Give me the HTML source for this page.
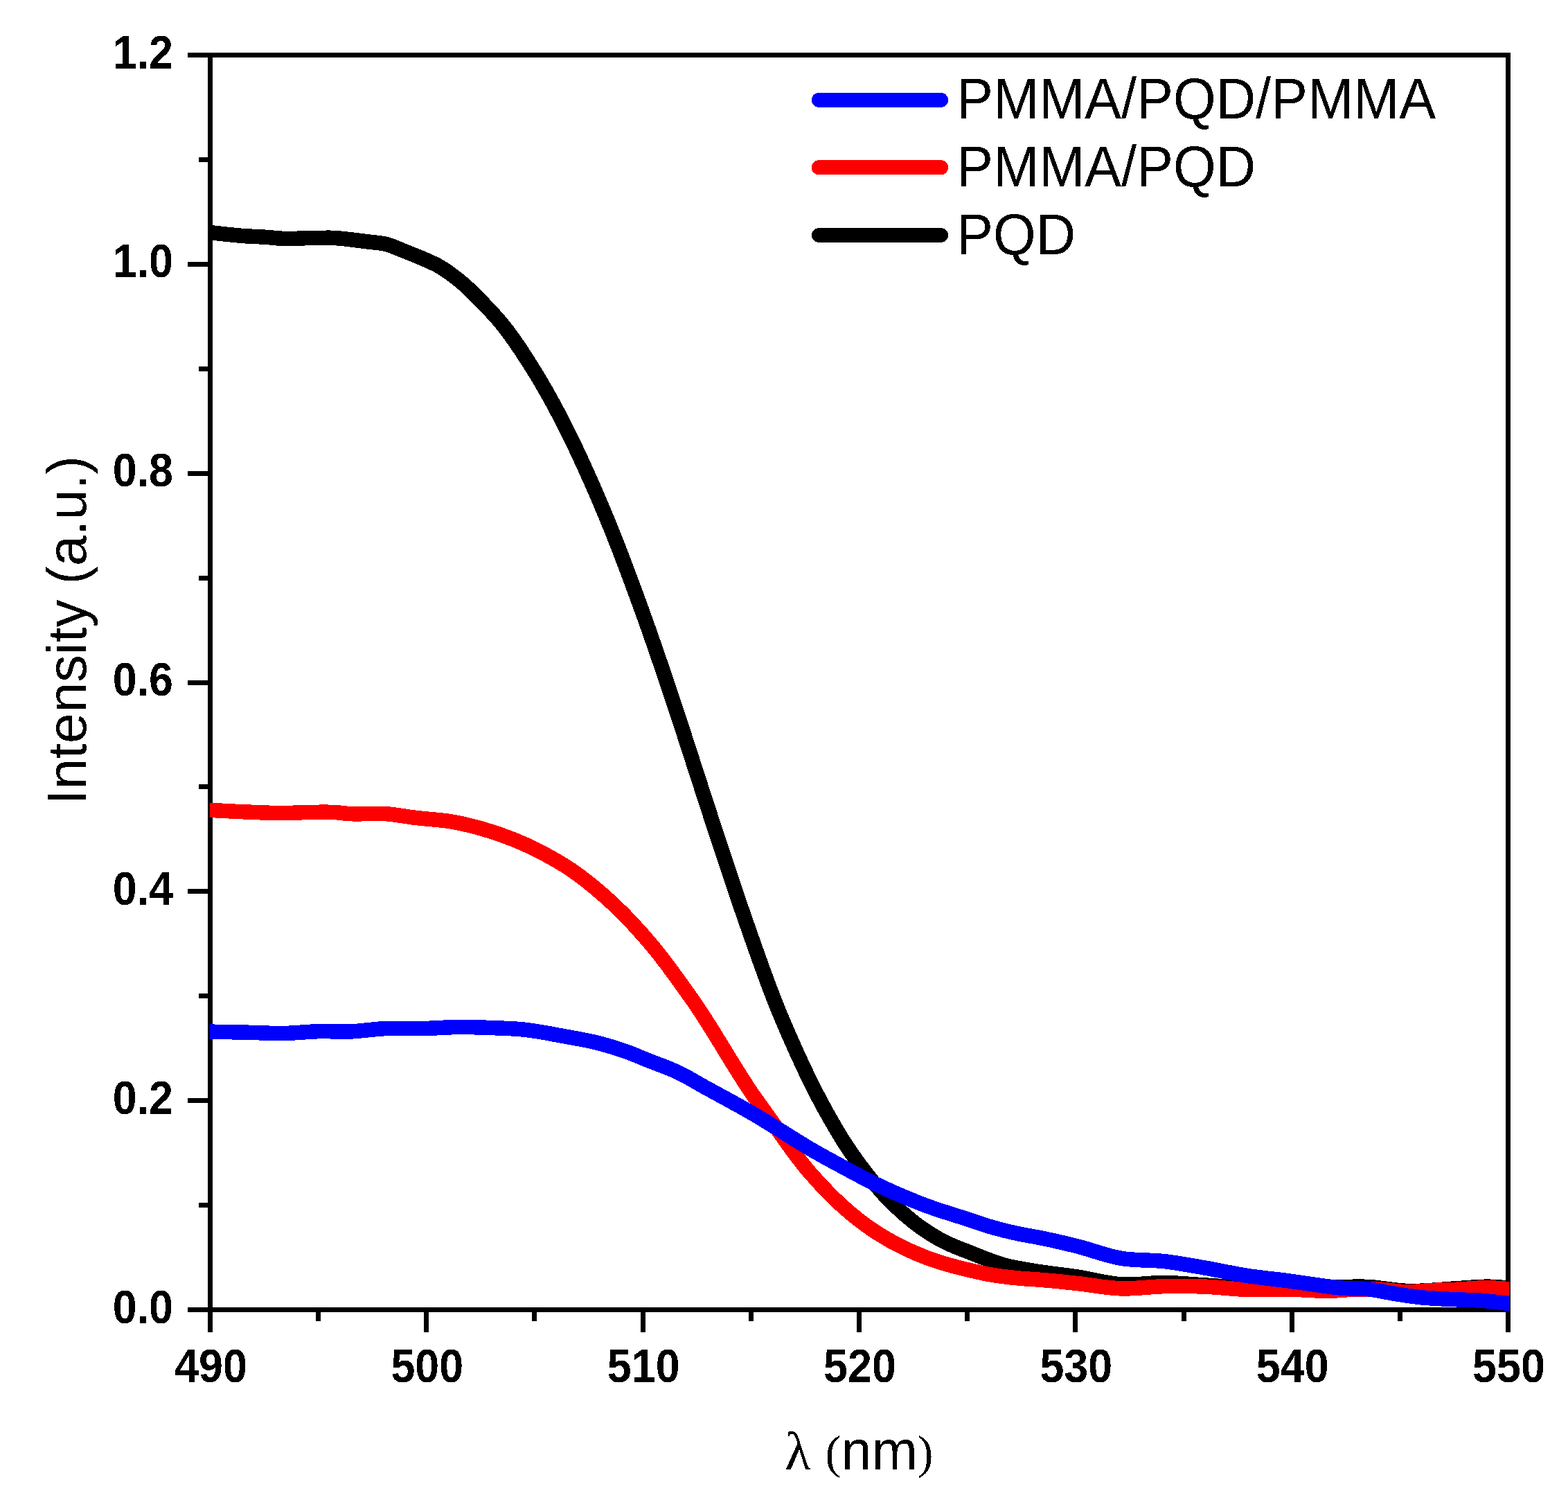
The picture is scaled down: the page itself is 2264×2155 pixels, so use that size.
<!DOCTYPE html>
<html lang="en"><head><meta charset="utf-8"><title>Intensity vs wavelength</title>
<style>
html,body{margin:0;padding:0;background:#fff;}
body{width:2264px;height:2155px;overflow:hidden;}
svg{display:block;}
.tk{font-family:"Liberation Sans",Arial,Helvetica,sans-serif;font-weight:bold;font-size:68.2px;fill:#000;}
.lb{font-family:"Liberation Sans",Arial,Helvetica,sans-serif;font-weight:normal;font-size:79.4px;fill:#000;}
.lg{font-family:"Liberation Sans",Arial,Helvetica,sans-serif;font-weight:normal;font-size:83px;fill:#000;}
.sf{font-family:"Liberation Serif","Times New Roman",Times,serif;font-weight:normal;font-size:80px;fill:#000;}
.cv{fill:none;stroke-width:21.5;stroke-linejoin:round;stroke-linecap:butt;}
</style></head><body>
<svg width="2264" height="2155" viewBox="0 0 2264 2155">
<rect x="0" y="0" width="2264" height="2155" fill="#ffffff"/>
<defs><clipPath id="plotclip"><rect x="302.8" y="60" width="1876.3999999999999" height="1860"/></clipPath>
<filter id="hard" x="-5%" y="-20%" width="110%" height="140%" color-interpolation-filters="sRGB"><feComponentTransfer><feFuncA type="discrete" tableValues="0 1"/></feComponentTransfer></filter></defs>
<g fill="#000" shape-rendering="crispEdges">
<rect x="300" y="76" width="7" height="1818"/>
<rect x="2174" y="76" width="7" height="1847"/>
<rect x="271" y="76" width="1910" height="7"/>
<rect x="271" y="1887" width="1910" height="7"/>
<rect x="287" y="1736" width="14" height="7"/>
<rect x="271" y="1585" width="30" height="7"/>
<rect x="287" y="1434" width="14" height="7"/>
<rect x="271" y="1283" width="30" height="7"/>
<rect x="287" y="1132" width="14" height="7"/>
<rect x="271" y="982" width="30" height="7"/>
<rect x="287" y="831" width="14" height="7"/>
<rect x="271" y="680" width="30" height="7"/>
<rect x="287" y="529" width="14" height="7"/>
<rect x="271" y="378" width="30" height="7"/>
<rect x="287" y="227" width="14" height="7"/>
<rect x="300" y="1893" width="7" height="30"/>
<rect x="456" y="1893" width="7" height="14"/>
<rect x="612" y="1893" width="7" height="30"/>
<rect x="768" y="1893" width="7" height="14"/>
<rect x="925" y="1893" width="7" height="30"/>
<rect x="1081" y="1893" width="7" height="14"/>
<rect x="1237" y="1893" width="7" height="30"/>
<rect x="1393" y="1893" width="7" height="14"/>
<rect x="1549" y="1893" width="7" height="30"/>
<rect x="1706" y="1893" width="7" height="14"/>
<rect x="1862" y="1893" width="7" height="30"/>
<rect x="2018" y="1893" width="7" height="14"/>
<rect x="2174" y="1893" width="7" height="30"/>
</g>
<g class="tk" text-anchor="end" filter="url(#hard)">
<text transform="translate(250 1909.5) scale(0.921 1)">0.0</text>
<text transform="translate(250 1607.7) scale(0.921 1)">0.2</text>
<text transform="translate(250 1305.8) scale(0.921 1)">0.4</text>
<text transform="translate(250 1004.0) scale(0.921 1)">0.6</text>
<text transform="translate(250 702.2) scale(0.921 1)">0.8</text>
<text transform="translate(250 400.3) scale(0.921 1)">1.0</text>
<text transform="translate(250 98.5) scale(0.921 1)">1.2</text>
</g>
<g class="tk" text-anchor="middle" filter="url(#hard)">
<text transform="translate(304.5 1995) scale(0.921 1)">490</text>
<text transform="translate(616.8 1995) scale(0.921 1)">500</text>
<text transform="translate(929.2 1995) scale(0.921 1)">510</text>
<text transform="translate(1241.5 1995) scale(0.921 1)">520</text>
<text transform="translate(1553.8 1995) scale(0.921 1)">530</text>
<text transform="translate(1866.2 1995) scale(0.921 1)">540</text>
<text transform="translate(2178.5 1995) scale(0.921 1)">550</text>
</g>
<g filter="url(#hard)">
<text class="lb" text-anchor="middle" transform="translate(124.3 909.7) rotate(-90) scale(1.0 1)">Intensity (a.u.)</text>
</g>
<g filter="url(#hard)">
<text y="2120.7"><tspan class="sf" x="1133.2" dy="0" style="font-size:77.5px">λ </tspan><tspan class="sf" x="1191.5" dy="-1.3" style="font-size:68.5px">(</tspan><tspan class="lb" x="1214.5" dy="1.3" style="font-size:79.4px">nm</tspan><tspan class="sf" x="1324.8" dy="-1.3" style="font-size:68.5px">)</tspan></text>
</g>
<g clip-path="url(#plotclip)" shape-rendering="crispEdges">
<path class="cv" stroke="#000000" d="M272.5 332.4C282.5 333.4 292.5 334.5 302.5 335.5C318.6 337.2 334.7 339.3 350.9 340.5C362.2 341.4 373.6 341.6 385.0 342.4C392.4 342.9 399.8 344.0 407.2 344.3C412.5 344.5 417.7 344.6 423.0 344.5C430.7 344.4 438.3 343.7 446.0 343.5C451.0 343.4 456.0 343.4 461.0 343.4C467.0 343.4 473.0 343.1 479.0 343.3C492.1 343.7 505.2 345.7 518.3 347.3C523.9 348.0 529.4 348.7 535.0 349.4C541.7 350.2 548.5 350.5 555.0 351.9C565.6 354.2 575.5 359.2 585.7 363.2C595.9 367.2 606.1 371.2 616.1 375.7C621.7 378.2 627.3 380.7 632.7 383.6C643.9 389.7 654.2 397.7 664.1 405.7C678.9 417.6 692.0 431.7 705.0 445.5C710.4 451.2 715.8 457.0 720.9 463.0C739.7 484.9 755.2 509.6 770.5 534.0C785.1 557.3 798.4 581.6 811.1 606.0C823.2 629.3 834.3 653.1 845.2 677.0C856.1 700.8 866.3 724.8 876.4 749.0C895.9 796.1 913.4 844.0 930.7 892.0C947.8 939.4 963.7 987.2 979.6 1035.0C995.4 1082.5 1010.3 1130.4 1026.0 1178.0C1041.7 1225.7 1057.2 1273.6 1073.8 1321.0C1090.6 1368.9 1106.7 1417.2 1126.3 1464.0C1146.7 1512.6 1168.3 1561.1 1194.2 1607.0C1202.5 1621.7 1210.8 1636.4 1220.0 1650.5C1232.4 1669.6 1246.0 1688.2 1260.5 1705.8C1266.4 1712.9 1272.4 1720.0 1278.7 1726.8C1286.3 1734.9 1294.3 1742.6 1302.6 1750.0C1310.2 1756.7 1318.0 1763.3 1326.2 1769.3C1338.2 1778.1 1351.0 1786.1 1364.3 1792.8C1375.8 1798.6 1388.0 1802.9 1400.0 1807.6C1416.5 1814.1 1432.9 1821.3 1450.0 1826.0C1466.3 1830.5 1483.3 1832.8 1500.0 1835.5C1518.2 1838.5 1536.6 1840.1 1554.8 1842.9C1576.2 1846.1 1597.2 1852.5 1618.7 1853.9C1639.9 1855.3 1661.3 1851.2 1682.6 1851.5C1700.9 1851.8 1719.1 1853.7 1737.4 1854.8C1758.6 1856.1 1779.8 1858.1 1801.0 1859.0C1828.9 1860.2 1856.9 1860.2 1884.8 1860.0C1915.2 1859.8 1945.8 1855.8 1976.1 1857.5C1994.4 1858.5 2012.6 1862.7 2030.9 1863.4C2055.2 1864.4 2079.6 1861.0 2104.0 1859.7C2119.2 1858.9 2134.4 1857.0 2149.6 1857.2C2159.5 1857.4 2169.3 1858.4 2179.2 1859.0C2189.2 1859.6 2199.2 1860.2 2209.2 1860.8"/>
<path class="cv" stroke="#ff0000" d="M272.5 1167.8C282.5 1168.3 292.5 1168.8 302.5 1169.3C320.5 1170.2 338.6 1171.3 356.6 1172.0C374.4 1172.7 392.1 1173.7 409.9 1173.6C423.3 1173.5 436.6 1172.5 450.0 1172.4C461.3 1172.3 472.7 1171.9 484.0 1172.6C490.4 1173.0 496.8 1174.0 503.2 1174.5C520.9 1175.8 538.8 1173.3 556.5 1174.6C571.1 1175.7 585.5 1178.6 600.0 1180.4C617.1 1182.5 634.4 1183.0 651.3 1185.9C666.7 1188.5 682.0 1192.2 697.0 1196.5C712.4 1200.9 727.7 1206.2 742.6 1212.2C758.2 1218.5 773.5 1225.8 788.3 1233.8C797.8 1238.9 807.2 1244.3 816.3 1250.0C842.9 1266.8 867.2 1287.7 890.0 1309.3C907.7 1326.1 924.2 1344.5 940.0 1363.1C961.5 1388.4 980.5 1415.9 999.7 1443.0C1032.3 1489.2 1058.4 1539.8 1091.1 1586.0C1096.1 1593.0 1101.1 1600.0 1106.2 1607.0C1127.2 1636.0 1146.4 1666.5 1170.0 1693.3C1187.6 1713.3 1206.2 1732.8 1226.6 1750.0C1234.2 1756.4 1242.0 1762.6 1250.0 1768.4C1263.1 1777.9 1277.0 1786.5 1291.3 1794.2C1306.0 1802.1 1321.4 1809.1 1337.0 1815.0C1351.9 1820.6 1367.2 1825.2 1382.6 1829.2C1388.4 1830.7 1394.2 1832.1 1400.0 1833.4C1409.4 1835.6 1418.8 1837.8 1428.3 1839.5C1443.4 1842.2 1458.7 1843.9 1474.0 1845.3C1482.6 1846.1 1491.3 1846.4 1500.0 1847.1C1518.3 1848.5 1536.6 1850.5 1554.8 1852.4C1576.1 1854.7 1597.3 1859.2 1618.7 1859.9C1639.9 1860.6 1661.3 1857.0 1682.6 1856.6C1700.9 1856.2 1719.2 1856.4 1737.4 1857.0C1758.8 1857.8 1780.0 1860.8 1801.4 1861.4C1820.9 1862.0 1840.5 1860.7 1860.0 1861.0C1880.4 1861.3 1900.9 1863.7 1921.3 1863.2C1933.5 1862.9 1945.7 1861.3 1957.9 1861.0C1969.9 1860.7 1982.0 1860.6 1994.0 1861.2C2006.3 1861.8 2018.6 1864.6 2030.9 1864.8C2043.1 1865.0 2055.2 1863.1 2067.4 1862.5C2079.6 1861.9 2091.8 1861.7 2104.0 1861.2C2119.2 1860.5 2134.4 1858.6 2149.6 1858.8C2159.5 1859.0 2169.3 1860.0 2179.2 1860.6C2189.2 1861.2 2199.2 1861.8 2209.2 1862.4"/>
<path class="cv" stroke="#0000ff" d="M272.5 1488.5C282.5 1488.7 292.5 1488.9 302.5 1489.1C320.5 1489.5 338.6 1489.8 356.6 1490.2C374.4 1490.6 392.1 1491.8 409.9 1491.5C427.7 1491.2 445.4 1488.9 463.2 1488.6C476.5 1488.4 489.9 1489.5 503.2 1489.1C521.0 1488.6 538.7 1485.3 556.5 1484.6C574.2 1483.9 592.0 1484.9 609.8 1484.6C627.6 1484.3 645.3 1482.6 663.1 1482.5C680.9 1482.4 698.6 1483.1 716.4 1483.8C728.7 1484.3 741.1 1484.6 753.3 1485.8C762.2 1486.7 771.1 1488.0 780.0 1489.5C788.9 1490.9 797.7 1492.6 806.6 1494.3C826.3 1498.0 846.3 1500.9 865.7 1506.0C881.1 1510.1 896.4 1514.8 911.3 1520.5C917.6 1522.9 923.8 1525.7 930.0 1528.2C946.6 1535.1 963.8 1540.5 980.0 1548.3C993.6 1554.9 1006.5 1563.0 1019.8 1570.3C1029.4 1575.6 1039.0 1580.7 1048.6 1586.0C1061.0 1592.8 1073.5 1599.6 1085.7 1606.7C1101.1 1615.6 1116.1 1625.2 1131.3 1634.5C1144.2 1642.4 1156.9 1650.7 1170.0 1658.4C1186.4 1668.0 1203.2 1677.0 1220.0 1686.0C1230.0 1691.4 1239.9 1696.8 1250.0 1701.9C1263.6 1708.8 1277.4 1715.2 1291.3 1721.4C1300.8 1725.6 1310.4 1729.6 1320.0 1733.5C1325.6 1735.8 1331.3 1738.0 1337.0 1740.1C1357.7 1747.9 1379.0 1753.9 1400.0 1760.8C1409.4 1763.9 1418.8 1767.4 1428.3 1770.2C1443.3 1774.7 1458.6 1778.3 1474.0 1781.5C1482.6 1783.3 1491.4 1784.6 1500.0 1786.3C1518.4 1789.9 1536.6 1794.2 1554.8 1798.7C1576.2 1804.0 1597.0 1812.6 1618.7 1816.3C1639.6 1819.8 1661.4 1818.3 1682.6 1820.8C1701.0 1823.0 1719.2 1826.5 1737.4 1829.6C1758.8 1833.3 1780.0 1838.2 1801.4 1841.5C1820.8 1844.5 1840.5 1846.1 1860.0 1848.8C1868.3 1850.0 1876.5 1851.2 1884.8 1852.4C1903.0 1854.9 1921.3 1858.0 1939.6 1859.4C1951.7 1860.3 1964.0 1859.5 1976.1 1860.8C1988.4 1862.1 2000.4 1865.2 2012.6 1867.2C2024.8 1869.1 2037.0 1871.1 2049.2 1872.5C2067.4 1874.5 2085.7 1874.9 2104.0 1875.8C2116.2 1876.4 2128.4 1876.5 2140.5 1877.4C2153.4 1878.4 2166.3 1880.2 2179.2 1881.6C2189.2 1882.7 2199.2 1883.8 2209.2 1884.9"/>
</g>
<g fill="none" stroke-width="21" stroke-linecap="round" shape-rendering="crispEdges">
<line x1="1182.3" y1="144.4" x2="1358.7" y2="144.4" stroke="#0000ff"/>
<line x1="1182.3" y1="241.8" x2="1358.7" y2="241.8" stroke="#ff0000"/>
<line x1="1182.3" y1="339.5" x2="1358.7" y2="339.5" stroke="#000000"/>
</g>
<g class="lg" filter="url(#hard)">
<text transform="translate(1381 170.7) scale(0.956 1)">PMMA/PQD/PMMA</text>
<text transform="translate(1381 268.6) scale(0.956 1)">PMMA/PQD</text>
<text transform="translate(1381 366.5) scale(0.956 1)">PQD</text>
</g>
</svg>
</body></html>
